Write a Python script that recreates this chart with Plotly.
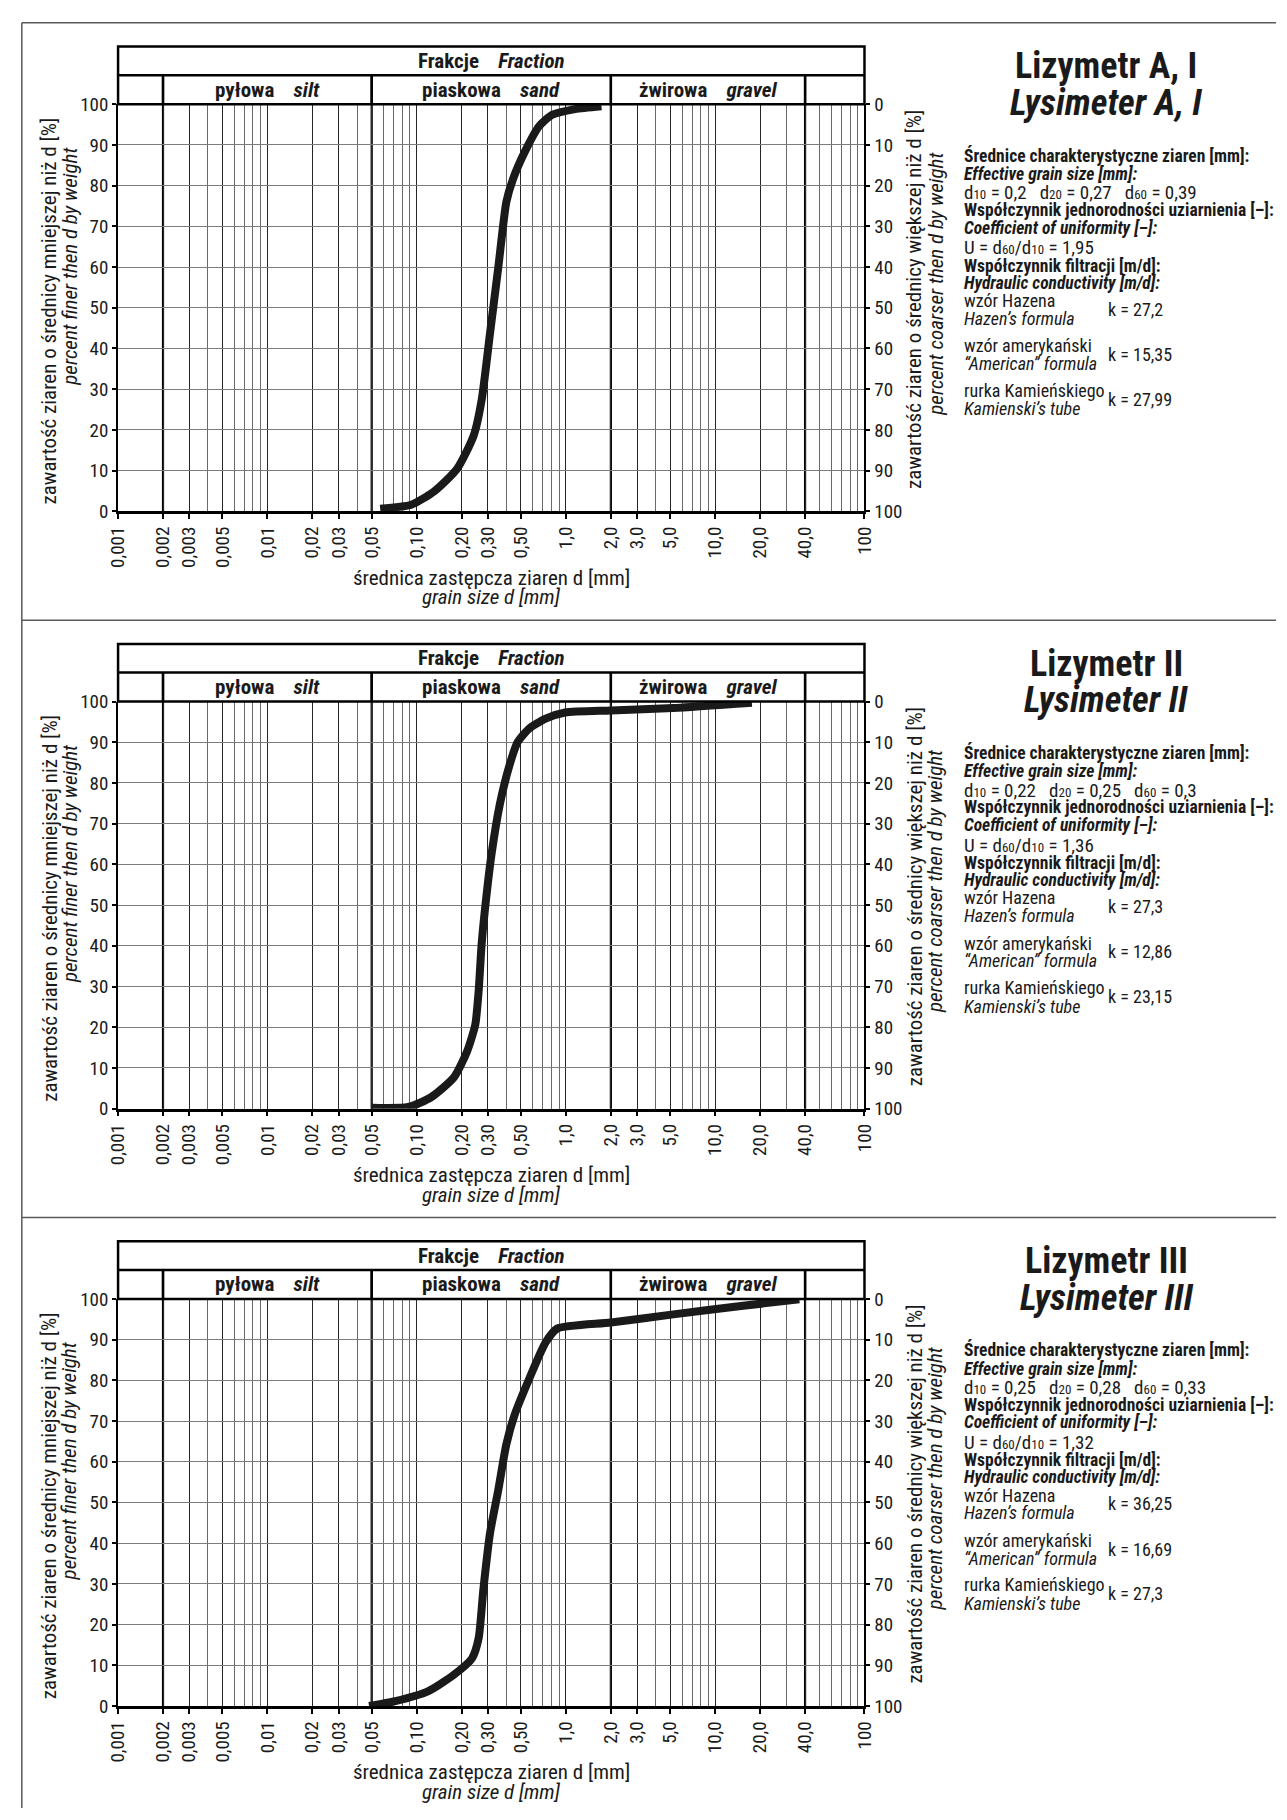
import math
import plotly.graph_objects as go

# ------------------------------------------------------------------ data
panel_title_pl = ["Lizymetr A, I", "Lizymetr II", "Lizymetr III"]
panel_title_en = ["Lysimeter A, I", "Lysimeter II", "Lysimeter III"]

# grain-size distribution curves: diameter [mm] vs percent finer [%]
d_A1 = [0.057, 0.092, 0.131, 0.187, 0.241, 0.273, 0.310, 0.352, 0.399, 0.442, 0.540, 0.661, 0.809, 1.15, 1.73]
p_A1 = [0.6, 1.6, 4.9, 10.5, 18.6, 27.5, 43.7, 59.8, 76.0, 81.6, 88.9, 94.6, 97.4, 98.8, 99.5]

d_II = [0.050, 0.088, 0.125, 0.178, 0.218, 0.247, 0.260, 0.273, 0.295, 0.318, 0.361, 0.420, 0.476, 0.568, 0.731, 0.989, 2.0, 5.24, 17.6]
p_II = [0.2, 0.4, 2.8, 7.7, 14.1, 20.6, 28.7, 40.8, 53.0, 62.7, 74.8, 84.5, 90.1, 93.4, 95.8, 97.3, 97.8, 98.4, 99.7]

d_III = [0.048, 0.072, 0.119, 0.178, 0.235, 0.260, 0.280, 0.310, 0.352, 0.399, 0.453, 0.568, 0.731, 0.873, 2.0, 5.24, 14.4, 36.6]
p_III = [0.0, 1.2, 3.6, 7.7, 11.7, 16.6, 28.7, 42.4, 53.0, 64.3, 71.5, 80.4, 89.3, 92.7, 94.2, 96.2, 98.2, 99.9]

curves_d = [d_A1, d_II, d_III]
curves_p = [p_A1, p_II, p_III]

# x-axis ticks
tick_vals = [0.001, 0.002, 0.003, 0.005, 0.01, 0.02, 0.03, 0.05, 0.1, 0.2, 0.3, 0.5,
             1, 2, 3, 5, 10, 20, 40, 100]
tick_text = ["0,001", "0,002", "0,003", "0,005", "0,01", "0,02", "0,03", "0,05", "0,10",
             "0,20", "0,30", "0,50", "1,0", "2,0", "3,0", "5,0", "10,0", "20,0", "40,0", "100"]
y_ticks = [0, 10, 20, 30, 40, 50, 60, 70, 80, 90, 100]

# soil fractions (header)
frac_bounds = [0.001, 0.002, 0.05, 2.0, 40.0, 100.0]
frac_pl = ["", "pyłowa", "piaskowa", "żwirowa", ""]
frac_en = ["", "silt", "sand", "gravel", ""]

# characteristic values per lysimeter
d10 = ["0,2", "0,22", "0,25"]
d20 = ["0,27", "0,25", "0,28"]
d60 = ["0,39", "0,3", "0,33"]
U_val = ["1,95", "1,36", "1,32"]
k_hazen = ["27,2", "27,3", "36,25"]
k_american = ["15,35", "12,86", "16,69"]
k_kamienski = ["27,99", "23,15", "27,3"]

# ------------------------------------------------------------------ layout constants (page px)
W, H = 1287, 1820
X_L, X_R = 108, 868
DY = 605
Y_TOP0, Y_BOT0 = 94.4, 506.7                 # 100 % line, 0 % line
HDR_TOP, HDR_MID = 36.0, 65.0
LOG_MIN, LOG_MAX = -3, 2

FONT = "Liberation Sans Narrow, Roboto Condensed, DejaVu Sans Condensed, Arial Narrow, Liberation Sans, sans-serif"
INK = "#1a1a1a"
SP = "\u00a0"


def px_x(v):
    return v / W


def px_y(v):
    return 1 - v / H


def xdom(v):
    return (math.log10(v) - LOG_MIN) / (LOG_MAX - LOG_MIN)


def sub(s):
    return "<span style='font-size:13px'>" + s + "</span>"


minor_vals = []
for e in range(LOG_MIN, LOG_MAX):
    for m in range(1, 10):
        v = m * 10.0 ** e
        if all(abs(v - t) / t > 1e-6 for t in tick_vals):
            minor_vals.append(v)

fig = go.Figure()
shapes = []
annotations = []
layout_axes = {}


def ann(x, y, text, size, xanchor="center", angle=0):
    annotations.append(dict(xref="paper", yref="paper", x=px_x(x), y=px_y(y), text=text,
                            showarrow=False, font=dict(size=size, color=INK),
                            xanchor=xanchor, yanchor="middle", textangle=angle))


for i in range(3):
    n = "" if i == 0 else str(i + 1)
    xa, ya, yr = "x" + n, "y" + n, "y" + str(i + 4)
    off = i * DY
    top_px, bot_px = Y_TOP0 + off, Y_BOT0 + off
    ph = bot_px - top_px

    fig.add_trace(go.Scatter(
        x=curves_d[i], y=curves_p[i], xaxis=xa, yaxis=ya, mode="lines",
        line=dict(color=INK, width=8, shape="spline", smoothing=0.6),
        hoverinfo="skip", showlegend=False))
    # companion trace for the right (coarser-than) axis
    fig.add_trace(go.Scatter(
        x=curves_d[i], y=[100 - v for v in curves_p[i]], xaxis=xa, yaxis=yr, mode="lines",
        line=dict(color="rgba(0,0,0,0)", width=1), hoverinfo="skip", showlegend=False))

    dom_y = [px_y(bot_px), px_y(top_px)]
    layout_axes["xaxis" + n] = dict(
        type="log", range=[LOG_MIN, LOG_MAX], domain=[px_x(X_L), px_x(X_R)], anchor=ya,
        tickmode="array", tickvals=tick_vals, ticktext=tick_text, tickangle=-90,
        ticks="outside", ticklen=5, tickwidth=1.5, tickcolor="black",
        showgrid=True, gridcolor="#262626", gridwidth=1,
        minor=dict(tickmode="array", tickvals=minor_vals, showgrid=True,
                   gridcolor="#686868", gridwidth=1, ticks=""),
        showline=True, linecolor="black", linewidth=2.5, zeroline=False,
        tickfont=dict(size=19, color=INK), fixedrange=True)
    layout_axes["yaxis" + n] = dict(
        range=[0, 100], domain=dom_y, anchor=xa, tickmode="array", tickvals=y_ticks,
        ticks="outside", ticklen=4, tickwidth=1.5, tickcolor="black",
        showgrid=True, gridcolor="#7c7c7c", gridwidth=1.2,
        showline=True, linecolor="black", linewidth=2, zeroline=False,
        tickfont=dict(size=19, color=INK), fixedrange=True)
    layout_axes["yaxis" + str(i + 4)] = dict(
        range=[100, 0], overlaying=ya, side="right", anchor=xa, tickmode="array",
        tickvals=y_ticks, ticks="outside", ticklen=4, tickwidth=1.5, tickcolor="black",
        showgrid=False, showline=True, linecolor="black", linewidth=2, zeroline=False,
        tickfont=dict(size=19, color=INK), fixedrange=True)

    xd, yd = xa + " domain", ya + " domain"
    h_top = 1 + (top_px - (HDR_TOP + off)) / ph
    h_mid = 1 + (top_px - (HDR_MID + off)) / ph

    # header box
    shapes.append(dict(type="rect", xref=xd, yref=yd, x0=0, x1=1, y0=1, y1=h_top,
                       line=dict(color="black", width=2.5), layer="above"))
    shapes.append(dict(type="line", xref=xd, yref=yd, x0=0, x1=1, y0=h_mid, y1=h_mid,
                       line=dict(color="black", width=2.5), layer="above"))
    # fraction boundaries (through header row and plot)
    for b in frac_bounds[1:-1]:
        shapes.append(dict(type="line", xref=xd, yref=yd, x0=xdom(b), x1=xdom(b), y0=0, y1=h_mid,
                           line=dict(color="black", width=2.2), layer="below"))
        shapes.append(dict(type="line", xref=xd, yref=yd, x0=xdom(b), x1=xdom(b), y0=1, y1=h_mid,
                           line=dict(color="black", width=2.5), layer="above"))

    annotations.append(dict(
        xref=xd, yref=yd, x=0.5, y=(h_top + h_mid) / 2, showarrow=False,
        text="<b>Frakcje</b>" + SP * 4 + "<b><i>Fraction</i></b>",
        font=dict(size=21, color=INK), xanchor="center", yanchor="middle"))
    for j in range(len(frac_pl)):
        if not frac_pl[j]:
            continue
        cx = (xdom(frac_bounds[j]) + xdom(frac_bounds[j + 1])) / 2
        annotations.append(dict(
            xref=xd, yref=yd, x=cx, y=(h_mid + 1) / 2, showarrow=False,
            text="<b>" + frac_pl[j] + "</b>" + SP * 4 + "<b><i>" + frac_en[j] + "</i></b>",
            font=dict(size=21, color=INK), xanchor="center", yanchor="middle"))

    # x-axis title
    xc = (X_L + X_R) / 2
    ann(xc, 574 + off, "średnica zastępcza ziaren d [mm]", 21)
    ann(xc, 594 + off, "<i>grain size d [mm]</i>", 21)
    # left y title
    ann(38, 304 + off, "zawartość ziaren o średnicy mniejszej niż d [%]", 21, angle=-90)
    ann(59, 258 + off, "<i>percent finer then d by weight</i>", 21, angle=-90)
    # right y title
    ann(919, 292 + off, "zawartość ziaren o średnicy większej niż d [%]", 21, angle=-90)
    ann(940, 276 + off, "<i>percent coarser then d by weight</i>", 21, angle=-90)

    # right-hand description
    ann(1114, 56 + off, "<b>" + panel_title_pl[i] + "</b>", 36)
    ann(1114, 93 + off, "<b><i>" + panel_title_en[i] + "</i></b>", 36)

    XT, XK = 967, 1114
    lines = [
        (146, "<b>Średnice charakterystyczne ziaren [mm]:</b>", 17.5, XT),
        (165, "<b><i>Effective grain size [mm]:</i></b>", 17.5, XT),
        (184, "d" + sub("10") + " = " + d10[i] + SP * 3 + "d" + sub("20") + " = " + d20[i]
         + SP * 3 + "d" + sub("60") + " = " + d60[i], 19, XT),
        (201.5, "<b>Współczynnik jednorodności uziarnienia [–]:</b>", 17.5, XT),
        (219.5, "<b><i>Coefficient of uniformity [–]:</i></b>", 17.5, XT),
        (240, "U = d" + sub("60") + "/d" + sub("10") + " = " + U_val[i], 19, XT),
        (258, "<b>Współczynnik filtracji [m/d]:</b>", 17.5, XT),
        (275, "<b><i>Hydraulic conductivity [m/d]:</i></b>", 17.5, XT),
        (293, "wzór Hazena", 18, XT),
        (311, "<i>Hazen’s formula</i>", 18, XT),
        (302, "k = " + k_hazen[i], 18, XK),
        (339, "wzór amerykański", 18, XT),
        (357, "<i>“American” formula</i>", 18, XT),
        (348, "k = " + k_american[i], 18, XK),
        (384, "rurka Kamieńskiego", 18, XT),
        (403, "<i>Kamienski’s tube</i>", 18, XT),
        (393, "k = " + k_kamienski[i], 18, XK),
    ]
    for yy, txt, fs, xx in lines:
        ann(xx, yy + off, txt, fs, xanchor="left")

# outer frame lines
FR = "#5a5a5a"
shapes.append(dict(type="line", xref="paper", yref="paper", x0=px_x(10), x1=px_x(10),
                   y0=px_y(12), y1=0, line=dict(color=FR, width=1.5)))
for yy in (12, 12 + DY, 12 + 2 * DY):
    shapes.append(dict(type="line", xref="paper", yref="paper", x0=px_x(10), x1=1,
                       y0=px_y(yy), y1=px_y(yy), line=dict(color=FR, width=1.5)))

fig.update_layout(
    width=W, height=H, margin=dict(l=0, r=0, t=0, b=0), autosize=False,
    paper_bgcolor="white", plot_bgcolor="white", showlegend=False,
    font=dict(family=FONT, color=INK), shapes=shapes, annotations=annotations,
    **layout_axes)

fig.write_html("out.html", config={"displayModeBar": False},
               post_script="document.body.style.margin='0';")
